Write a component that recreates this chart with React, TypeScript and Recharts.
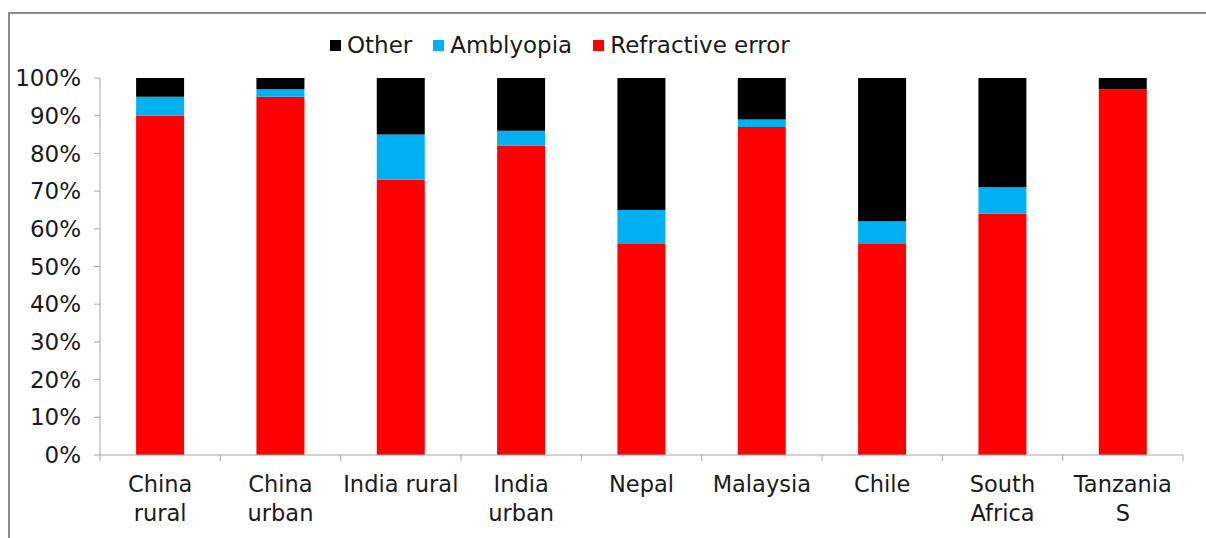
import React from "react";
import { Bar, BarChart, XAxis, YAxis } from "recharts";

const categories = [
  "China\nrural",
  "China\nurban",
  "India rural",
  "India\nurban",
  "Nepal",
  "Malaysia",
  "Chile",
  "South\nAfrica",
  "Tanzania\nS",
];
const refractive = [90, 95, 73, 82, 56, 87, 56, 64, 97];
const amblyopia = [5, 2, 12, 4, 9, 2, 6, 7, 0];
const other = [5, 3, 15, 14, 35, 11, 38, 29, 3];
const yTicks = [0, 10, 20, 30, 40, 50, 60, 70, 80, 90, 100];

const series = [
  { key: "refractive", name: "Refractive error", color: "#ff0000" },
  { key: "amblyopia", name: "Amblyopia", color: "#00b0f0" },
  { key: "other", name: "Other", color: "#000000" },
];

const data = categories.map((c, i) => ({
  name: c,
  refractive: refractive[i],
  amblyopia: amblyopia[i],
  other: other[i],
}));

const W = 1206;
const H = 538;
const LEFT = 100;
const RIGHT = 23;
const BAND = (W - LEFT - RIGHT) / categories.length;
const FONT = "'DejaVu Sans', sans-serif";
const TEXT = "#1a1a1a";
const AXIS = "#a6a6a6";

function XTick(props: any) {
  const { x, y, payload, index } = props;
  const lines = String(payload.value).split("\n");
  const last = index === categories.length - 1;
  return (
    <g>
      <line x1={x - BAND / 2} x2={x - BAND / 2} y1={y} y2={y + 6} stroke={AXIS} />
      {last && <line x1={x + BAND / 2} x2={x + BAND / 2} y1={y} y2={y + 6} stroke={AXIS} />}
      {lines.map((l, i) => (
        <text
          key={i}
          x={x}
          y={y + 37 + i * 29}
          textAnchor="middle"
          fill={TEXT}
          fontSize={22.5}
          fontFamily={FONT}
        >
          {l}
        </text>
      ))}
    </g>
  );
}

export default function App() {
  const legend = [...series].reverse();
  return (
    <div style={{ position: "absolute", left: 0, top: 0, width: W, height: H, background: "#fff", overflow: "hidden" }}>
      <div
        style={{
          position: "absolute",
          left: 8,
          top: 12,
          width: W,
          height: H,
          borderTop: "2px solid #8c8c8c",
          borderLeft: "2px solid #8c8c8c",
        }}
      />
      <div
        style={{
          position: "absolute",
          left: 330,
          top: 32,
          display: "flex",
          alignItems: "center",
          fontFamily: FONT,
          fontSize: 23,
          color: TEXT,
          whiteSpace: "nowrap",
        }}
      >
        {legend.map((s) => (
          <div key={s.key} style={{ display: "flex", alignItems: "center", marginRight: 21 }}>
            <span style={{ width: 11, height: 11, background: s.color, display: "inline-block", marginRight: 6 }} />
            <span>{s.name}</span>
          </div>
        ))}
      </div>
      <div style={{ position: "absolute", left: 0, top: 0 }}>
        <BarChart
          width={W}
          height={H}
          data={data}
          margin={{ top: 78, right: RIGHT, bottom: 0, left: 0 }}
          barCategoryGap="30%"
        >
          <XAxis
            dataKey="name"
            interval={0}
            height={83}
            tickLine={false}
            tickSize={0}
            tickMargin={0}
            axisLine={{ stroke: AXIS }}
            tick={<XTick />}
          />
          <YAxis
            width={LEFT}
            domain={[0, 100]}
            ticks={yTicks}
            interval={0}
            tickFormatter={(v: number) => `${v}%`}
            axisLine={{ stroke: AXIS }}
            tickLine={{ stroke: AXIS }}
            tickSize={6}
            tickMargin={13}
            tick={{ fill: TEXT, fontSize: 23, fontFamily: FONT }}
          />
          {series.map((s) => (
            <Bar key={s.key} dataKey={s.key} name={s.name} stackId="a" fill={s.color} isAnimationActive={false} />
          ))}
        </BarChart>
      </div>
    </div>
  );
}
